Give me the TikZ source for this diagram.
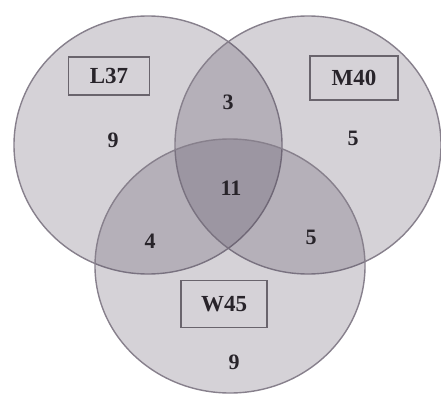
\documentclass[tikz,border=0pt]{standalone}
\usepackage{fontspec}
\setmainfont{Liberation Serif}
\definecolor{setfill}{RGB}{80,70,90}
\definecolor{setedge}{RGB}{135,128,140}
\definecolor{boxedge}{RGB}{105,100,108}
\definecolor{txt}{RGB}{40,36,42}
\tikzset{
  setshape/.style={fill=setfill, fill opacity=0.24, draw=setedge, draw opacity=1, line width=1.4pt},
  setlabel/.style={draw=boxedge, line width=1.3pt, text=txt, font=\fontsize{23}{26}\selectfont\bfseries, inner sep=0pt},
  count/.style={text=txt, font=\fontsize{22}{25}\selectfont\bfseries}
}
\begin{document}
\begin{tikzpicture}[x=1pt, y=-1pt]
  \useasboundingbox (0,0) rectangle (441,398);
  % the three sets
  \fill[white] (0,0) rectangle (441,398);
  \path[setshape] (148,145) ellipse [x radius=134, y radius=129];
  \path[setshape] (308,145) ellipse [x radius=133, y radius=129];
  \path[setshape] (230,266) ellipse [x radius=135, y radius=127];
  % set names
  \node[setlabel, minimum width=81pt, minimum height=38pt] (L) at (109,76) {L37};
  \node[setlabel, minimum width=88pt, minimum height=44pt] (M) at (354,78) {M40};
  \node[setlabel, minimum width=86pt, minimum height=47pt] (W) at (224,304) {W45};
  % region counts
  \node[count] (l) at (113,140) {9};
  \node[count] (m) at (353,138) {5};
  \node[count] (w) at (234,362) {9};
  \node[count] (lm) at (228,102) {3};
  \node[count] (lw) at (150,241) {4};
  \node[count] (mw) at (311,237) {5};
  \node[count] (lmw) at (231,188) {11};
\end{tikzpicture}
\end{document}
